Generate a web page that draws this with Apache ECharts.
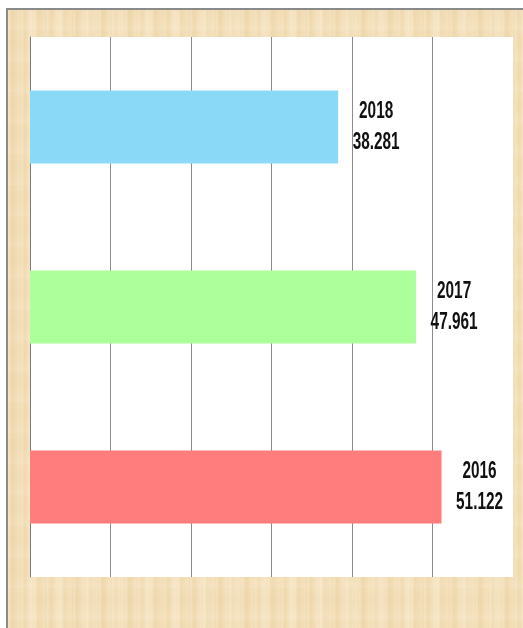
<!DOCTYPE html>
<html>
<head>
<meta charset="utf-8">
<script src="https://cdn.jsdelivr.net/npm/echarts@6/dist/echarts.min.js"></script>
<style>
  html, body { margin: 0; padding: 0; background: #ffffff; width: 523px; height: 628px; overflow: hidden; }
  #frame {
    position: absolute; left: 6px; top: 8px; width: 530px; height: 640px;
    border-top: 2px solid #8a8a8a; border-left: 2px solid #8a8a8a;
    background-color: #f2ddb5;
    background-image:
      repeating-linear-gradient(90deg, rgba(255,248,230,0.3) 0px, rgba(255,248,230,0) 3px, rgba(225,195,145,0.15) 4px, rgba(255,248,230,0) 6px, rgba(255,250,238,0.2) 11px, rgba(255,250,238,0) 13px),
      repeating-linear-gradient(90deg, rgba(230,195,140,0) 0px, rgba(230,195,140,0.15) 7px, rgba(230,195,140,0) 17px, rgba(255,248,232,0.2) 23px, rgba(255,248,232,0) 29px),
      repeating-linear-gradient(0deg, rgba(255,250,240,0.12) 0px, rgba(255,250,240,0) 9px, rgba(225,195,150,0.1) 19px, rgba(255,250,240,0) 31px);
  }
  #chart { position: absolute; left: 0; top: 0; width: 523px; height: 628px; }
</style>
</head>
<body>
<div id="frame"></div>
<div id="chart"></div>
<script>
  const categories = ['2016', '2017', '2018'];
  const values = [51.122, 47.961, 38.281];
  const valueLabels = ['51.122', '47.961', '38.281'];
  const barColors = ['#ff7d7d', '#adff9b', '#8ad9f6'];
  const xTicks = [0, 10, 20, 30, 40, 50, 60];

  const chart = echarts.init(document.getElementById('chart'), null, { renderer: 'canvas' });
  chart.setOption({
    backgroundColor: 'transparent',
    animation: false,
    grid: { left: 30, right: 10, top: 37, bottom: 51, show: true, backgroundColor: '#ffffff', borderWidth: 0 },
    xAxis: {
      type: 'value', min: xTicks[0], max: xTicks[xTicks.length - 1], interval: 10,
      axisLabel: { show: false }, axisTick: { show: false }, axisLine: { show: false },
      splitLine: { show: true, lineStyle: { color: ['#8c8c8c', '#8c8c8c', '#8c8c8c', '#8c8c8c', '#8c8c8c', '#8c8c8c', 'rgba(0,0,0,0)'], width: 1 } }
    },
    yAxis: {
      type: 'category', data: categories,
      axisLabel: { show: false }, axisTick: { show: false },
      axisLine: { show: true, lineStyle: { color: '#7a7a7a', width: 1 } }
    },
    series: [{
      type: 'bar',
      barWidth: 73,
      data: values.map((v, i) => ({ value: v, itemStyle: { color: barColors[i] } })),
      label: { show: false }
    }]
  });

  // Narrow, tall labels (condensed look) placed via the chart's own scales
  const font = 'bold 24px "Liberation Sans", Arial, sans-serif';
  const labelEls = [];
  categories.forEach((c, i) => {
    const p = chart.convertToPixel({ gridIndex: 0 }, [values[i], c]);
    const cx = p[0] + 38;
    [[c, -15.5], [valueLabels[i], 15.5]].forEach(([t, dy]) => {
      labelEls.push({
        type: 'text', x: cx, y: p[1] + dy, scaleX: 0.64, scaleY: 1,
        style: { text: t, font: font, fill: '#111111', align: 'center', verticalAlign: 'middle' },
        z: 100
      });
    });
  });
  chart.setOption({ graphic: { elements: labelEls } });
</script>
</body>
</html>
